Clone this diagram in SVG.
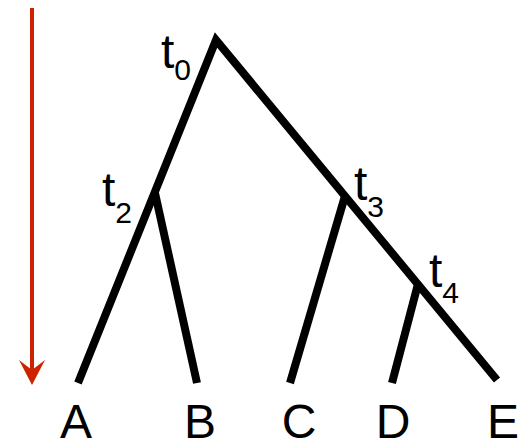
<svg xmlns="http://www.w3.org/2000/svg" width="528" height="441" viewBox="0 0 528 441">
<style>
.br{fill:none;stroke:#000;stroke-width:8;stroke-linecap:butt;stroke-linejoin:miter}
.lab{font-family:"Liberation Sans",Arial,sans-serif;font-size:48px;fill:#000}
.sub{font-size:30px}
.leaf{font-family:"Liberation Sans",Arial,sans-serif;font-size:48px;fill:#000;text-anchor:middle}
</style>
<g id="time-arrow">
<line x1="32" y1="8" x2="32" y2="372" stroke="#cc2200" stroke-width="4"/>
<polygon points="19,360 32,385 45,360 32,370" fill="#cc2200"/>
</g>
<g id="connectors">
<polyline class="br" points="78,383 216,40 497,380"/>
<line class="br" x1="155" y1="193" x2="197" y2="383"/>
<line class="br" x1="345" y1="196" x2="290" y2="383"/>
<line class="br" x1="418" y1="284" x2="392" y2="383"/>
</g>
<g id="t0"><text class="lab" x="161" y="68">t<tspan class="sub" y="80">0</tspan></text></g>
<g id="t2"><text class="lab" x="102" y="206">t<tspan class="sub" y="223">2</tspan></text></g>
<g id="t3"><text class="lab" x="354" y="200">t<tspan class="sub" y="217">3</tspan></text></g>
<g id="t4"><text class="lab" x="429" y="287">t<tspan class="sub" y="303">4</tspan></text></g>
<g id="A"><text class="leaf" x="76" y="438">A</text></g>
<g id="B"><text class="leaf" x="200" y="438">B</text></g>
<g id="C"><text class="leaf" x="299" y="438">C</text></g>
<g id="D"><text class="leaf" x="393" y="438">D</text></g>
<g id="E"><text class="leaf" x="503" y="438">E</text></g>
</svg>
